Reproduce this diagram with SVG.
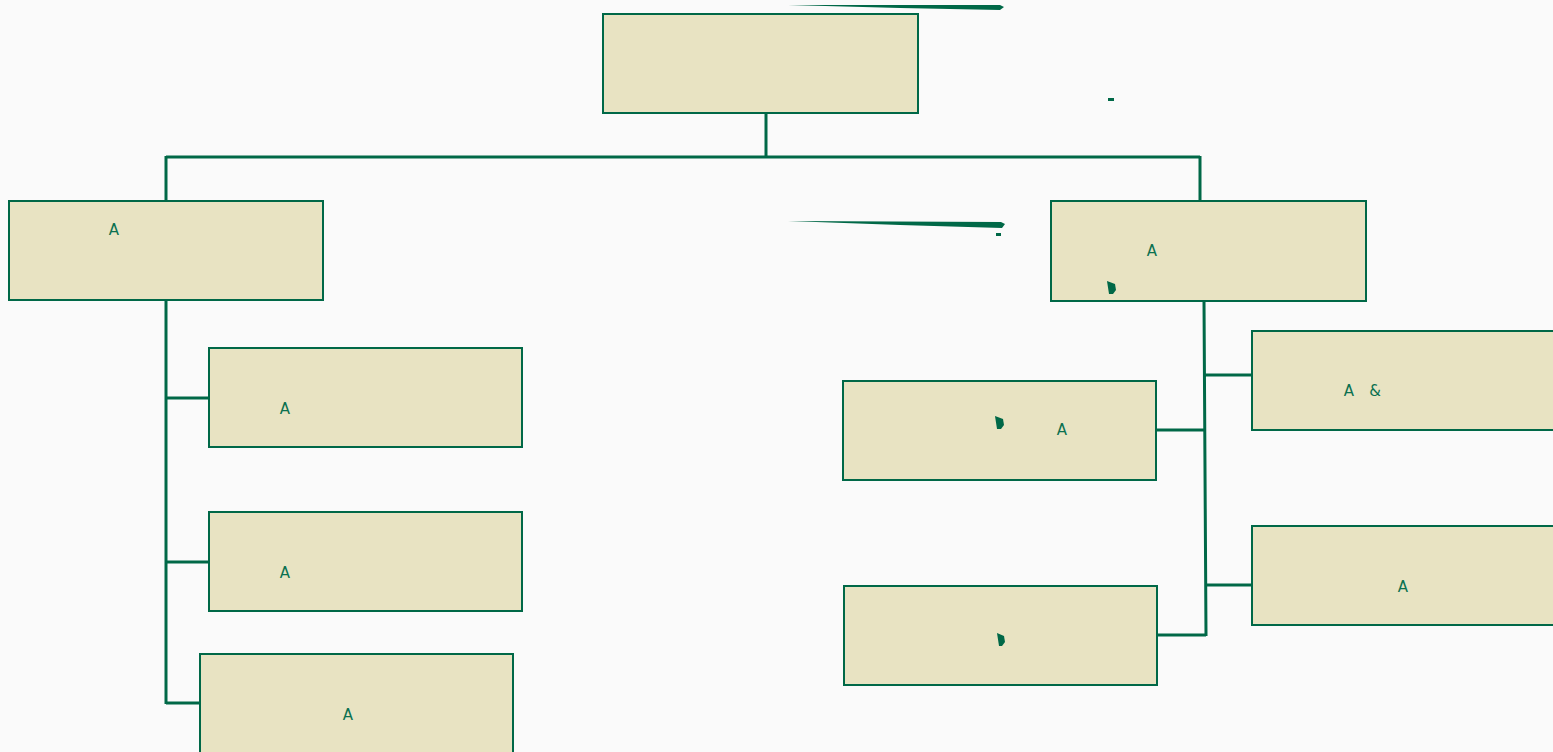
<svg xmlns="http://www.w3.org/2000/svg" width="1553" height="752" viewBox="0 0 1553 752">
<style>
.box{fill:#e8e3c2;stroke:#006847;stroke-width:2}
.ln{fill:none;stroke:#006847;stroke-width:3}
.t{font-family:"DejaVu Sans",sans-serif;font-size:15px;fill:#0b7150;text-anchor:middle}
.mk{fill:#006847}
</style>
<rect width="1553" height="752" fill="#fafafa"/>
<g id="connectors">
<path class="ln" d="M766,113 V157 M166,157 H1200 M166,156 V201 M1200,156 V201"/>
<path class="ln" d="M166,300 V704 M166,398 H209 M166,562 H209 M166,703 H200"/>
<path class="ln" d="M1204,301 L1206,636 M1205,375 H1252 M1157,430 H1205 M1206,585 H1252 M1158,635 H1206"/>
</g>
<g id="marks">
<polygon class="mk" points="788,5 1000,5 1004,7 1000,10 900,8"/>
<polygon class="mk" points="788,221 1001,222 1005,224 1002,228 900,225"/>
<rect class="mk" x="996" y="233" width="5" height="3"/>
<rect class="mk" x="1108" y="98" width="6" height="3"/>
</g>
<g id="root"><rect class="box" x="603" y="14" width="315" height="99"/></g>
<g id="left"><rect class="box" x="9" y="201" width="314" height="99"/><text class="t" x="114" y="235">A</text></g>
<g id="right"><rect class="box" x="1051" y="201" width="315" height="100"/><text class="t" x="1152" y="256">A</text><polygon class="mk" points="1107,281 1115,284 1116,290 1113,294 1109,294"/></g>
<g id="l1"><rect class="box" x="209" y="348" width="313" height="99"/><text class="t" x="285" y="414">A</text></g>
<g id="l2"><rect class="box" x="209" y="512" width="313" height="99"/><text class="t" x="285" y="578">A</text></g>
<g id="l3"><rect class="box" x="200" y="654" width="313" height="110"/><text class="t" x="348" y="720">A</text></g>
<g id="r1"><rect class="box" x="1252" y="331" width="310" height="99"/><text class="t" x="1349" y="396">A</text><text class="t" x="1375" y="396">&amp;</text></g>
<g id="r2"><rect class="box" x="843" y="381" width="313" height="99"/><polygon class="mk" points="995,416 1003,419 1004,425 1001,429 997,429"/><text class="t" x="1062" y="435">A</text></g>
<g id="r3"><rect class="box" x="1252" y="526" width="310" height="99"/><text class="t" x="1403" y="592">A</text></g>
<g id="r4"><rect class="box" x="844" y="586" width="313" height="99"/><polygon class="mk" points="997,633 1004,636 1005,642 1002,646 999,646"/></g>
</svg>
